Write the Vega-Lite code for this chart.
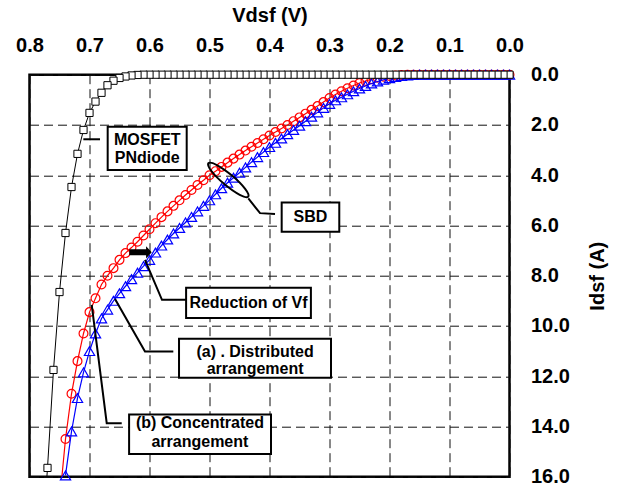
{
  "$schema": "https://vega.github.io/schema/vega-lite/v6.json",
  "width": 480,
  "height": 402,
  "autosize": {"type": "none"},
  "padding": {"left": 29.5, "top": 74.7, "right": 109.5, "bottom": 11.3},
  "background": "white",
  "config": {
    "view": {"stroke": "black", "strokeWidth": 2.5},
    "axis": {
      "labelFont": "Liberation Sans", "labelFontWeight": "bold", "labelFontSize": 20, "labelColor": "black",
      "titleFont": "Liberation Sans", "titleFontWeight": "bold", "titleFontSize": 20, "titleColor": "black",
      "grid": true, "gridColor": "#111111", "gridDash": [9, 5], "gridWidth": 1, "gridOpacity": 1,
      "domain": false, "ticks": false, "labelOverlap": false
    }
  },
  "datasets": {
    "mosfet": [
      {"V":0.00,"I":0},{"V":0.01,"I":0},{"V":0.02,"I":0},{"V":0.03,"I":0},{"V":0.04,"I":0},{"V":0.05,"I":0},{"V":0.06,"I":0},{"V":0.07,"I":0},{"V":0.08,"I":0},{"V":0.09,"I":0},
      {"V":0.10,"I":0},{"V":0.11,"I":0},{"V":0.12,"I":0},{"V":0.13,"I":0},{"V":0.14,"I":0},{"V":0.15,"I":0},{"V":0.16,"I":0},{"V":0.17,"I":0},{"V":0.18,"I":0},{"V":0.19,"I":0},
      {"V":0.20,"I":0},{"V":0.21,"I":0},{"V":0.22,"I":0},{"V":0.23,"I":0},{"V":0.24,"I":0},{"V":0.25,"I":0},{"V":0.26,"I":0},{"V":0.27,"I":0},{"V":0.28,"I":0},{"V":0.29,"I":0},
      {"V":0.30,"I":0},{"V":0.31,"I":0},{"V":0.32,"I":0},{"V":0.33,"I":0},{"V":0.34,"I":0},{"V":0.35,"I":0},{"V":0.36,"I":0},{"V":0.37,"I":0},{"V":0.38,"I":0},{"V":0.39,"I":0},
      {"V":0.40,"I":0},{"V":0.41,"I":0},{"V":0.42,"I":0},{"V":0.43,"I":0},{"V":0.44,"I":0},{"V":0.45,"I":0},{"V":0.46,"I":0},{"V":0.47,"I":0},{"V":0.48,"I":0},{"V":0.49,"I":0},
      {"V":0.50,"I":0},{"V":0.51,"I":0},{"V":0.52,"I":0},{"V":0.53,"I":0},{"V":0.54,"I":0},{"V":0.55,"I":0},{"V":0.56,"I":0},{"V":0.57,"I":0},{"V":0.58,"I":0},{"V":0.59,"I":0},
      {"V":0.60,"I":0},{"V":0.61,"I":0},{"V":0.62,"I":0.01},{"V":0.63,"I":0.03},{"V":0.64,"I":0.07},{"V":0.65,"I":0.13},{"V":0.66,"I":0.24},{"V":0.67,"I":0.42},{"V":0.68,"I":0.72},{"V":0.69,"I":1.07},
      {"V":0.70,"I":1.52},{"V":0.71,"I":2.2},{"V":0.72,"I":3.15},{"V":0.73,"I":4.47},{"V":0.74,"I":6.3},{"V":0.75,"I":8.65},{"V":0.76,"I":11.75},{"V":0.77,"I":15.65},{"V":0.771,"I":16.0}
    ],
    "sbdB": [
      {"V":0.00,"I":0},{"V":0.01,"I":0},{"V":0.02,"I":0},{"V":0.03,"I":0},{"V":0.04,"I":0},{"V":0.05,"I":0},{"V":0.06,"I":0},{"V":0.07,"I":0},{"V":0.08,"I":0},{"V":0.09,"I":0},
      {"V":0.10,"I":0},{"V":0.11,"I":0},{"V":0.12,"I":0},{"V":0.13,"I":0},{"V":0.14,"I":0},{"V":0.15,"I":0},{"V":0.16,"I":0},{"V":0.17,"I":0},{"V":0.18,"I":0.01},{"V":0.19,"I":0.03},
      {"V":0.20,"I":0.05},{"V":0.21,"I":0.08},{"V":0.22,"I":0.12},{"V":0.23,"I":0.18},{"V":0.24,"I":0.25},{"V":0.25,"I":0.33},{"V":0.26,"I":0.43},{"V":0.27,"I":0.54},{"V":0.28,"I":0.66},{"V":0.29,"I":0.79},
      {"V":0.30,"I":0.93},{"V":0.31,"I":1.09},{"V":0.32,"I":1.25},{"V":0.33,"I":1.4},{"V":0.34,"I":1.55},{"V":0.35,"I":1.7},{"V":0.36,"I":1.85},{"V":0.37,"I":2.0},{"V":0.38,"I":2.14},{"V":0.39,"I":2.28},
      {"V":0.40,"I":2.42},{"V":0.41,"I":2.57},{"V":0.42,"I":2.72},{"V":0.43,"I":2.87},{"V":0.44,"I":3.02},{"V":0.45,"I":3.18},{"V":0.46,"I":3.34},{"V":0.47,"I":3.5},{"V":0.48,"I":3.67},{"V":0.49,"I":3.84},
      {"V":0.50,"I":4.0},{"V":0.51,"I":4.2},{"V":0.52,"I":4.39},{"V":0.53,"I":4.59},{"V":0.54,"I":4.79},{"V":0.55,"I":5.0},{"V":0.56,"I":5.22},{"V":0.57,"I":5.44},{"V":0.58,"I":5.67},{"V":0.59,"I":5.91},
      {"V":0.60,"I":6.15},{"V":0.61,"I":6.4},{"V":0.62,"I":6.65},{"V":0.63,"I":6.88},{"V":0.64,"I":7.1},{"V":0.65,"I":7.37},{"V":0.66,"I":7.7},{"V":0.67,"I":8.0},{"V":0.68,"I":8.35},{"V":0.69,"I":8.9},
      {"V":0.70,"I":9.45},{"V":0.71,"I":10.3},{"V":0.72,"I":11.4},{"V":0.73,"I":12.7},{"V":0.74,"I":14.5},{"V":0.746,"I":16.0}
    ],
    "sbdA": [
      {"V":0.00,"I":0},{"V":0.01,"I":0},{"V":0.02,"I":0},{"V":0.03,"I":0},{"V":0.04,"I":0},{"V":0.05,"I":0},{"V":0.06,"I":0},{"V":0.07,"I":0},{"V":0.08,"I":0},{"V":0.09,"I":0},
      {"V":0.10,"I":0},{"V":0.11,"I":0},{"V":0.12,"I":0},{"V":0.13,"I":0},{"V":0.14,"I":0},{"V":0.15,"I":0},{"V":0.16,"I":0.01},{"V":0.17,"I":0.03},{"V":0.18,"I":0.05},{"V":0.19,"I":0.09},
      {"V":0.20,"I":0.14},{"V":0.21,"I":0.2},{"V":0.22,"I":0.27},{"V":0.23,"I":0.35},{"V":0.24,"I":0.45},{"V":0.25,"I":0.55},{"V":0.26,"I":0.66},{"V":0.27,"I":0.78},{"V":0.28,"I":0.9},{"V":0.29,"I":1.02},
      {"V":0.30,"I":1.16},{"V":0.31,"I":1.32},{"V":0.32,"I":1.5},{"V":0.33,"I":1.67},{"V":0.34,"I":1.85},{"V":0.35,"I":2.03},{"V":0.36,"I":2.2},{"V":0.37,"I":2.37},{"V":0.38,"I":2.54},{"V":0.39,"I":2.71},
      {"V":0.40,"I":2.88},{"V":0.41,"I":3.08},{"V":0.42,"I":3.28},{"V":0.43,"I":3.48},{"V":0.44,"I":3.69},{"V":0.45,"I":3.9},{"V":0.46,"I":4.1},{"V":0.47,"I":4.3},{"V":0.48,"I":4.52},{"V":0.49,"I":4.76},
      {"V":0.50,"I":5.0},{"V":0.51,"I":5.22},{"V":0.52,"I":5.44},{"V":0.53,"I":5.66},{"V":0.54,"I":5.88},{"V":0.55,"I":6.1},{"V":0.56,"I":6.32},{"V":0.57,"I":6.56},{"V":0.58,"I":6.8},{"V":0.59,"I":7.08},
      {"V":0.60,"I":7.37},{"V":0.61,"I":7.62},{"V":0.62,"I":7.88},{"V":0.63,"I":8.14},{"V":0.64,"I":8.42},{"V":0.65,"I":8.7},{"V":0.66,"I":9.0},{"V":0.67,"I":9.35},{"V":0.68,"I":9.7},{"V":0.69,"I":10.3},
      {"V":0.70,"I":11.0},{"V":0.71,"I":11.85},{"V":0.72,"I":12.87},{"V":0.73,"I":14.2},{"V":0.74,"I":15.95}
    ],
    "boxes": [
      {"V":0.6697,"I":2.07,"V2":0.538,"I2":3.79},
      {"V":0.3797,"I":5.09,"V2":0.2837,"I2":6.25},
      {"V":0.539,"I":8.48,"V2":0.331,"I2":9.68},
      {"V":0.5508,"I":10.51,"V2":0.2975,"I2":12.06},
      {"V":0.634,"I":13.52,"V2":0.3975,"I2":15.1}
    ],
    "texts": [
      {"V":0.6037,"I":2.6,"t":"MOSFET"},
      {"V":0.6037,"I":3.3,"t":"PNdiode"},
      {"V":0.3317,"I":5.67,"t":"SBD"},
      {"V":0.435,"I":9.08,"t":"Reduction of Vf"},
      {"V":0.424,"I":11.02,"t":"(a) . Distributed"},
      {"V":0.424,"I":11.73,"t":"arrangement"},
      {"V":0.516,"I":13.87,"t":"(b)  Concentrated"},
      {"V":0.516,"I":14.6,"t":"arrangement"}
    ],
    "leaders": [
      {"g":"m","k":1,"V":0.7103,"I":2.57},{"g":"m","k":2,"V":0.6825,"I":2.57},
      {"g":"s","k":1,"V":0.4353,"I":4.92},{"g":"s","k":2,"V":0.4158,"I":5.51},{"g":"s","k":3,"V":0.3908,"I":5.54},
      {"g":"r","k":1,"V":0.6075,"I":7.37},{"g":"r","k":2,"V":0.5792,"I":8.96},{"g":"r","k":3,"V":0.5392,"I":8.96},
      {"g":"a","k":1,"V":0.6575,"I":8.93},{"g":"a","k":2,"V":0.6075,"I":11.02},{"g":"a","k":3,"V":0.5603,"I":11.02},
      {"g":"b","k":1,"V":0.6963,"I":9.16},{"g":"b","k":2,"V":0.6713,"I":13.87},{"g":"b","k":3,"V":0.6463,"I":13.87}
    ],
    "ellipse": [{"V":0.4687,"I":4.19}],
    "arrow": [{"V":0.615,"I":7.07}]
  },
  "encoding": {
    "x": {
      "field": "V", "type": "quantitative",
      "scale": {"domain": [0, 0.8], "reverse": true, "nice": false, "zero": false},
      "axis": {"orient": "top", "values": [0, 0.1, 0.2, 0.3, 0.4, 0.5, 0.6, 0.7, 0.8], "format": ".1f", "title": "Vdsf (V)", "labelFlush": false, "labelPadding": 19, "titlePadding": 10}
    },
    "y": {
      "field": "I", "type": "quantitative",
      "scale": {"domain": [0, 16], "reverse": true, "nice": false, "zero": false},
      "axis": {"orient": "right", "values": [0, 2, 4, 6, 8, 10, 12, 14, 16], "format": ".1f", "title": "Idsf (A)", "titleAngle": 270, "labelPadding": 21, "labelAlign": "left", "titlePadding": 38}
    }
  },
  "layer": [
    {"data": {"name": "sbdB"}, "mark": {"type": "line", "color": "#ff0000", "strokeWidth": 1.2}},
    {"data": {"name": "sbdB"}, "transform": [{"filter": "datum.I < 15.99"}], "mark": {"type": "point", "shape": "circle", "filled": false, "stroke": "#ff0000", "strokeWidth": 1.2, "size": 78, "opacity": 1}},
    {"data": {"name": "sbdA"}, "mark": {"type": "line", "color": "#0000ff", "strokeWidth": 1.2}},
    {"data": {"name": "sbdA"}, "mark": {"type": "point", "shape": "triangle-up", "filled": false, "stroke": "#0000ff", "strokeWidth": 1.2, "size": 105, "opacity": 1}},
    {"data": {"name": "mosfet"}, "mark": {"type": "line", "color": "black", "strokeWidth": 1}},
    {"data": {"name": "mosfet"}, "transform": [{"filter": "datum.I < 15.99"}], "mark": {"type": "point", "shape": "square", "filled": true, "fill": "white", "stroke": "black", "strokeWidth": 1, "size": 52, "opacity": 1}},
    {"data": {"name": "leaders"}, "mark": {"type": "line", "color": "black", "strokeWidth": 2}, "encoding": {"detail": {"field": "g"}, "order": {"field": "k"}}},
    {"data": {"name": "boxes"}, "mark": {"type": "rect", "fill": "white", "stroke": "black", "strokeWidth": 2}, "encoding": {"x2": {"field": "V2"}, "y2": {"field": "I2"}}},
    {"data": {"name": "texts"}, "mark": {"type": "text", "font": "Liberation Sans", "fontWeight": "bold", "fontSize": 16, "align": "center", "baseline": "middle", "color": "black"}, "encoding": {"text": {"field": "t"}}},
    {"data": {"name": "ellipse"}, "mark": {"type": "point", "shape": "M -1 0 C -1 -0.1215 -0.5523 -0.22 0 -0.22 C 0.5523 -0.22 1 -0.1215 1 0 C 1 0.1215 0.5523 0.22 0 0.22 C -0.5523 0.22 -1 0.1215 -1 0 Z", "size": 2704, "angle": 40, "filled": false, "stroke": "black", "strokeWidth": 2, "opacity": 1}},
    {"data": {"name": "arrow"}, "mark": {"type": "point", "shape": "M -1 -0.27 L 0.5 -0.27 L 0.5 -0.55 L 1 0 L 0.5 0.55 L 0.5 0.27 L -1 0.27 Z", "size": 502, "filled": true, "fill": "black", "strokeWidth": 0, "opacity": 1}}
  ]
}
